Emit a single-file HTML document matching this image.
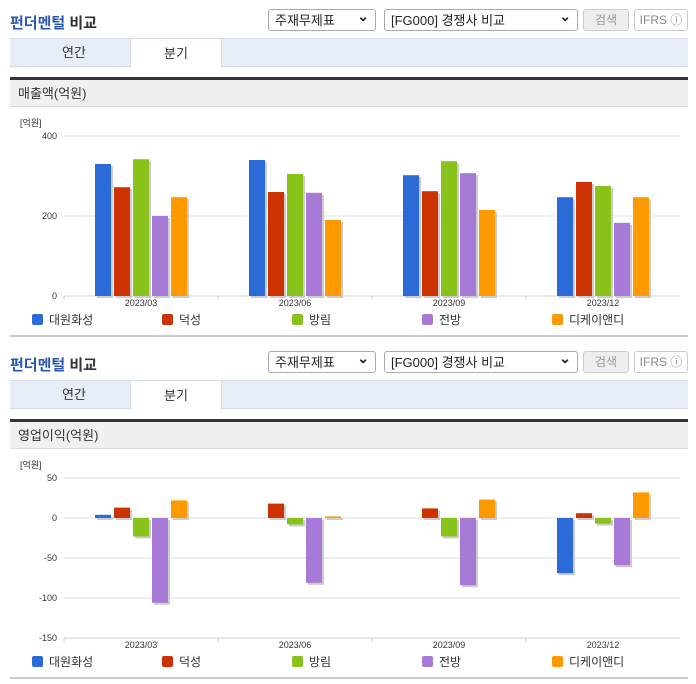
<!DOCTYPE html>
<html><head><meta charset="utf-8">
<style>
body{margin:0;width:696px;height:684px;background:#fff;font-family:"Liberation Sans","Noto Sans CJK KR",sans-serif;position:relative;overflow:hidden}
.sec{position:absolute;left:0;width:696px;height:342px}
.h{position:absolute;left:10px;top:12px;font-size:15px;font-weight:bold;color:#333}
.h span{color:#2b57b5}
.sel{position:absolute;top:9px;height:22px;border:1px solid #aaa;border-radius:3px;font-size:13px;line-height:22px;padding-left:6px;box-sizing:border-box;color:#222;background:#fff}
.sel:after{content:"⌄";position:absolute;right:6px;top:-5px;font-size:14px;font-weight:bold}
.btn{position:absolute;top:9px;height:22px;border:1px solid #ccc;border-radius:3px;font-size:12px;line-height:20px;text-align:center;box-sizing:border-box;color:#999;background:#eee}
.tabs{position:absolute;left:10px;top:38px;width:678px;height:29px;background:#e8eef7;border-top:1px solid #d6dde8;border-bottom:1px solid #d6dde8;box-sizing:border-box}
.tab{position:absolute;top:-1px;width:92px;height:30px;font-size:13px;text-align:center;line-height:29px;color:#333;box-sizing:border-box}
.tab.on{background:#fff;border:1px solid #d6dde8;border-bottom:none}
.dark{position:absolute;left:10px;top:77px;width:678px;height:3px;background:#333}
.tb{position:absolute;left:10px;top:80px;width:678px;height:27px;background:#f0f0f0;font-size:13px;line-height:27px;padding-left:8px;box-sizing:border-box;color:#333;border-bottom:1px solid #ddd}
.bot{position:absolute;left:10px;top:335px;width:678px;height:2px;background:#ccc}
svg{position:absolute;left:0;top:107px}
</style></head><body>
<div class="sec" id="s1" style="top:0"></div>
<div class="sec" id="s2" style="top:342px"></div>
<script>
const categories=["2023/03","2023/06","2023/09","2023/12"];
const seriesNames=["대원화성","덕성","방림","전방","디케이앤디"];
const colors=["#2b6bd8","#cc3300","#88c21a","#a77ad8","#ff9900"];
const revenue=[[330,340,302,247],[272,260,262,285],[342,305,337,275],[200,258,307,183],[247,190,215,247]];
const profit=[[4,0,0,-69],[13,18,12,6],[-23,-8,-23,-7],[-106,-81,-84,-59],[22,2,23,32]];
const revTicks=[0,200,400];
const profTicks=[-150,-100,-50,0,50];
const NS="http://www.w3.org/2000/svg";
function mk(t,a,p){const e=document.createElementNS(NS,t);for(const k in a)e.setAttribute(k,a[k]);p.appendChild(e);return e;}
function build(sec,title,data,ticks,min,max){
  sec.innerHTML=`<div class="h"><span>펀더멘털</span> 비교</div>
  <div class="sel" style="left:268px;width:108px">주재무제표</div>
  <div class="sel" style="left:384px;width:194px">[FG000] 경쟁사 비교</div>
  <div class="btn" style="left:583px;width:46px">검색</div>
  <div class="btn" style="left:634px;width:54px;background:#fff;color:#888">IFRS ⓘ</div>
  <div class="tabs"><div class="tab" style="left:18px;border:none">연간</div><div class="tab on" style="left:120px">분기</div></div>
  <div class="dark"></div>
  <div class="tb">${title}</div>
  <div class="bot"></div>`;
  const svg=mk("svg",{width:696,height:228},sec);
  
  
  const top=29,bot=189,x0=64,x1=680;
  const y=v=>top+(max-v)/(max-min)*(bot-top);
  const cw=(x1-x0)/categories.length;
  const t=mk("text",{x:20,y:19,"font-size":9,fill:"#333"},svg);t.textContent="[억원]";
  ticks.forEach(v=>{
    mk("line",{x1:x0,x2:x1,y1:y(v),y2:y(v),stroke:"#dde",'stroke-width':1},svg);
    const tt=mk("text",{x:57,y:y(v)+3,"font-size":9,fill:"#333","text-anchor":"end"},svg);tt.textContent=v;
  });
  mk("line",{x1:x0,x2:x1,y1:bot,y2:bot,stroke:"#ccd"},svg);
  categories.forEach((c,i)=>{
    const cx=x0+cw*(i+0.5);
    mk("line",{x1:x0+cw*i,x2:x0+cw*i,y1:bot,y2:bot+4,stroke:"#ccd"},svg);
    const ct=mk("text",{x:cx,y:bot+10,"font-size":9,fill:"#333","text-anchor":"middle"},svg);ct.textContent=c;
    data.forEach((s,j)=>{
      const v=s[i];const bx=cx+(j-2)*19-8;
      const ya=Math.min(y(v),y(0)),h=Math.abs(y(v)-y(0));
      mk("rect",{x:bx+2,y:ya+2,width:16,height:h,fill:"#ccc"},svg);
      const r=mk("rect",{x:bx,y:ya,width:16,height:h,fill:colors[j]},svg);
      
      
    });
  });
  seriesNames.forEach((n,j)=>{
    const lx=32+j*130;
    mk("rect",{x:lx,y:207,width:11,height:11,rx:2,fill:colors[j]},svg);
    const lt=mk("text",{x:lx+17,y:217,"font-size":12,fill:"#333"},svg);lt.textContent=n;
  });
}
build(document.getElementById("s1"),"매출액(억원)",revenue,revTicks,0,400);
build(document.getElementById("s2"),"영업이익(억원)",profit,profTicks,-150,50);
</script>
</body></html>
